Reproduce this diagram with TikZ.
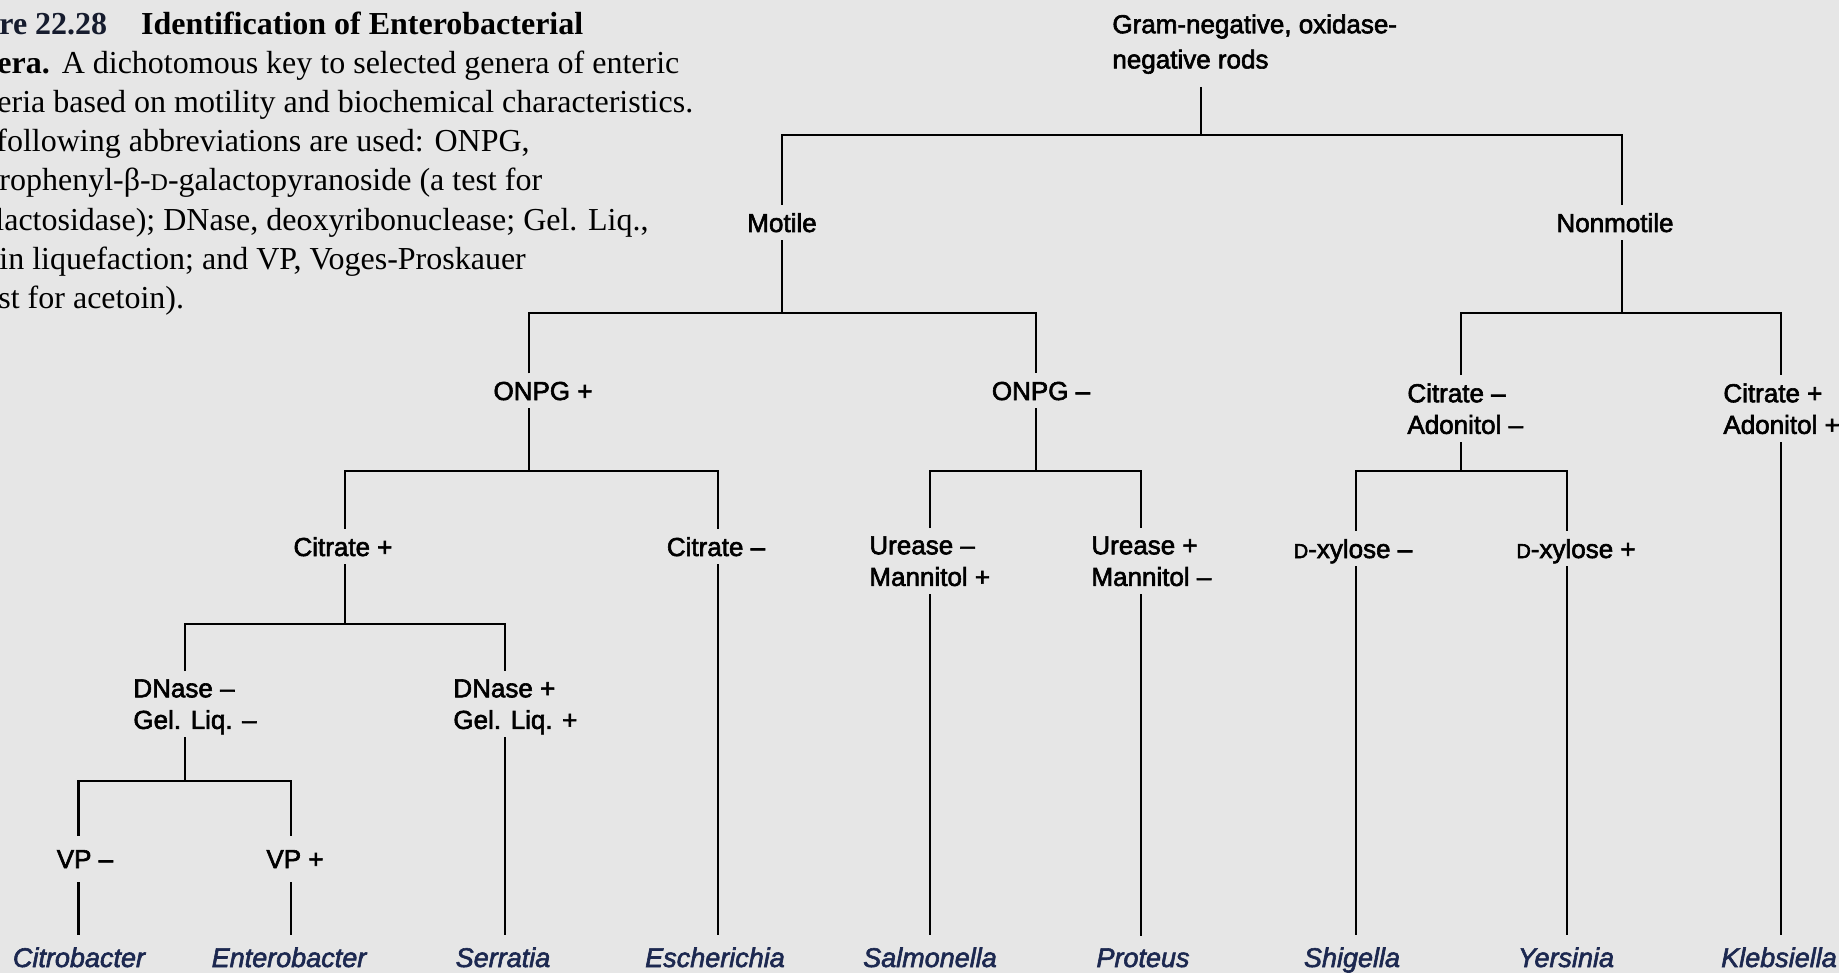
\documentclass[tikz,border=0pt]{standalone}
\usepackage{fontspec}
\setmainfont{Liberation Serif}
\setsansfont{Liberation Sans}
\definecolor{bgc}{HTML}{E6E6E6}
\definecolor{leafc}{HTML}{1C2850}
\definecolor{capc}{HTML}{161C2E}
\newcommand{\scD}[1]{{\fontsize{#1}{#1}\selectfont D}}
\newcommand{\heavy}{\special{pdf:literal direct 2 Tr 0.3 w}}
\begin{document}
\begin{tikzpicture}[x=0.5pt,y=-0.5pt,
  ln/.style={line width=1.35pt, black},
  lbl/.style={font=\fontsize{13}{15.8}\selectfont\sffamily\heavy, inner xsep=0pt, inner ysep=4pt, text depth=0pt, align=left},
  vpl/.style={lbl, inner ysep=7pt},
  leaf/.style={font=\fontsize{13.5}{16}\selectfont\sffamily\itshape\heavy, text=leafc, inner xsep=0pt, inner ysep=6pt, text depth=0pt, anchor=base},
  captxt/.style={font=\fontsize{16}{19}\selectfont, inner sep=0pt, anchor=base west}]
\useasboundingbox (0,0) rectangle (1839,973);
\clip (0,0) rectangle (1839,973);
\fill[bgc] (0,0) rectangle (1839,973);

% caption
\node[captxt] (c1) at (-1,35) {{\bfseries\color{capc}re 22.28}\hspace{17pt}{\bfseries Identification of Enterobacterial}};
\node[captxt] (c2) at (-3,74) {{\bfseries era.}\hspace{6pt}A dichotomous key to selected genera of enteric};
\node[captxt] (c3) at (-3,113) {eria based on motility and biochemical characteristics.};
\node[captxt] (c4) at (-4,152) {following abbreviations are used: ONPG,};
\node[captxt] (c5) at (-1,191) {rophenyl-β-\scD{12}-galactopyranoside (a test for};
\node[captxt] (c6) at (-5,230) {lactosidase); DNase, deoxyribonuclease; Gel. Liq.,};
\node[captxt] (c7) at (-1,269) {in liquefaction; and VP, Voges-Proskauer};
\node[captxt] (c8) at (-2,308) {st for acetoin).};

% tree labels
\node[lbl, font=\fontsize{13}{17.6}\selectfont\sffamily\heavy, inner ysep=9pt, anchor=north west] (root) at (1112,-4) {Gram-negative, oxidase-\\negative rods};
\node[lbl, anchor=base] (mot) at (782,232) {Motile};
\node[lbl, anchor=base] (non) at (1615,232) {Nonmotile};
\node[lbl, anchor=base] (onp) at (543,400) {ONPG +};
\node[lbl, anchor=base] (onm) at (1041,400) {ONPG –};
\node[lbl, anchor=north west] (cam) at (1407,375) {Citrate –\\Adonitol –};
\node[lbl, anchor=north west] (capl) at (1723,375) {Citrate +\\Adonitol +};
\node[lbl, anchor=base] (cip) at (343,556) {Citrate +};
\node[lbl, anchor=base] (cim) at (716,556) {Citrate –};
\node[lbl, anchor=north west] (urm) at (869,528) {Urease –\\Mannitol +};
\node[lbl, anchor=north west] (urp) at (1091,528) {Urease +\\Mannitol –};
\node[lbl, anchor=base] (dxm) at (1353,558) {\scD{10}-xylose –};
\node[lbl, anchor=base] (dxp) at (1576,558) {\scD{10}-xylose +};
\node[lbl, anchor=north west] (dnm) at (133,671) {DNase –\\Gel. Liq. –};
\node[lbl, anchor=north west] (dnp) at (453,671) {DNase +\\Gel. Liq. +};
\node[vpl, anchor=base] (vpm) at (85,868) {VP –};
\node[vpl, anchor=base] (vpp) at (295,868) {VP +};

% leaves
\node[leaf] (citro) at (79,967) {Citrobacter};
\node[leaf] (entero) at (289,967) {Enterobacter};
\node[leaf] (serr) at (503,967) {Serratia};
\node[leaf] (esch) at (715,967) {Escherichia};
\node[leaf] (salm) at (930,967) {Salmonella};
\node[leaf] (prot) at (1143,967) {Proteus};
\node[leaf] (shig) at (1352,967) {Shigella};
\node[leaf] (yers) at (1566,967) {Yersinia};
\node[leaf] (kleb) at (1779,967) {Klebsiella};

% column / junction coordinates
\coordinate (kRoot) at (1201,135);
\coordinate (kMot) at (782,313);
\coordinate (kNon) at (1622,313);
\coordinate (kOnp) at (529,471);
\coordinate (kOnm) at (1036,471);
\coordinate (kCam) at (1461,471);
\coordinate (kCap) at (1781,0);
\coordinate (kCip) at (345,624);
\coordinate (kCim) at (718,0);
\coordinate (kUrm) at (930,0);
\coordinate (kUrp) at (1141,0);
\coordinate (kDxm) at (1356,0);
\coordinate (kDxp) at (1567,0);
\coordinate (kDnm) at (185,781);
\coordinate (kDnp) at (505,0);
\coordinate (kVpm) at (78.6,0);
\coordinate (kVpp) at (291,0);

% connectors
\draw[ln] (root.south -| kRoot) -- (kRoot);
\draw[ln] (mot.north -| kMot) |- (kRoot) -| (non.north -| kNon);
\draw[ln] (mot.south -| kMot) -- (kMot);
\draw[ln] (onp.north -| kOnp) |- (kMot) -| (onm.north -| kOnm);
\draw[ln] (non.south -| kNon) -- (kNon);
\draw[ln] (cam.north -| kCam) |- (kNon) -| (capl.north -| kCap);
\draw[ln] (onp.south -| kOnp) -- (kOnp);
\draw[ln] (cip.north -| kCip) |- (kOnp) -| (cim.north -| kCim);
\draw[ln] (onm.south -| kOnm) -- (kOnm);
\draw[ln] (urm.north -| kUrm) |- (kOnm) -| (urp.north -| kUrp);
\draw[ln] (cam.south -| kCam) -- (kCam);
\draw[ln] (dxm.north -| kDxm) |- (kCam) -| (dxp.north -| kDxp);
\draw[ln] (cip.south -| kCip) -- (kCip);
\draw[ln] (dnm.north -| kDnm) |- (kCip) -| (dnp.north -| kDnp);
\draw[ln] (dnm.south -| kDnm) -- (kDnm);
\draw[ln] (vpm.north -| kVpm) |- (kDnm) -| (vpp.north -| kVpp);

\draw[ln] (vpm.south -| kVpm) -- (citro.north -| kVpm);
\draw[ln] (vpp.south -| kVpp) -- (entero.north -| kVpp);
\draw[ln] (dnp.south -| kDnp) -- (serr.north -| kDnp);
\draw[ln] (cim.south -| kCim) -- (esch.north -| kCim);
\draw[ln] (urm.south -| kUrm) -- (salm.north -| kUrm);
\draw[ln] (urp.south -| kUrp) -- (prot.north -| kUrp);
\draw[ln] (dxm.south -| kDxm) -- (shig.north -| kDxm);
\draw[ln] (dxp.south -| kDxp) -- (yers.north -| kDxp);
\draw[ln] (capl.south -| kCap) -- (kleb.north -| kCap);
\end{tikzpicture}
\end{document}
